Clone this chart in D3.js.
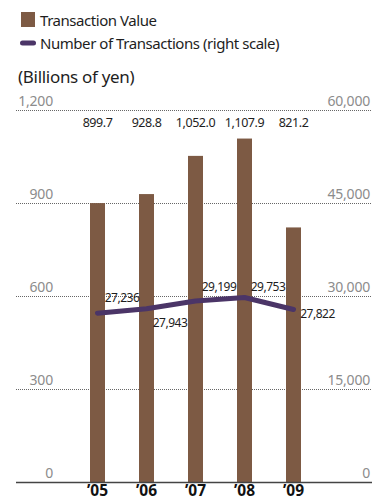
<!DOCTYPE html>
<html>
<head>
<meta charset="utf-8">
<script src="https://cdn.jsdelivr.net/npm/d3@7"></script>
<style>
  html, body { margin: 0; padding: 0; background: #fff; }
  svg { display: block; font-family: "Noto Sans", "Open Sans", sans-serif; }
</style>
</head>
<body>
<svg id="chart" width="379" height="501"></svg>
<script>
// Fiscal years
const years = ["’05", "’06", "’07", "’08", "’09"];
// Transaction value, billions of yen (left scale)
const transactionValue = [899.7, 928.8, 1052.0, 1107.9, 821.2];
// Number of transactions (right scale)
const transactionCount = [27236, 27943, 29199, 29753, 27822];
// Axis ticks
const leftTicks = [0, 300, 600, 900, 1200];
const rightTicks = [0, 15000, 30000, 45000, 60000];

const svg = d3.select("#chart");
const barColor = "#7d5a44";
const lineColor = "#4b3567";
const tickColor = "#8c8c8c";
const textColor = "#1e1e1e";

const plotLeft = 16, plotRight = 372, plotTop = 110, plotBottom = 482;

const x = d3.scaleBand().domain(years).range([73, 318])
  .paddingInner(34 / 49).paddingOuter(17 / 49);
const yL = d3.scaleLinear().domain([0, 1200]).range([plotBottom, plotTop]);
const yR = d3.scaleLinear().domain([0, 60000]).range([plotBottom, plotTop]);

// Legend
svg.append("rect").attr("x", 21).attr("y", 12).attr("width", 14).attr("height", 15).attr("fill", barColor);
svg.append("text").attr("x", 40).attr("y", 26).attr("font-size", 15).attr("letter-spacing", -0.45)
  .attr("fill", textColor).text("Transaction Value");
svg.append("line").attr("x1", 22.5).attr("x2", 33.5).attr("y1", 43).attr("y2", 43)
  .attr("stroke", lineColor).attr("stroke-width", 5).attr("stroke-linecap", "round");
svg.append("text").attr("x", 40).attr("y", 48.5).attr("font-size", 15).attr("letter-spacing", -0.45)
  .attr("fill", textColor).text("Number of Transactions (right scale)");

svg.append("text").attr("x", 18).attr("y", 83).attr("font-size", 17).attr("letter-spacing", -0.3)
  .attr("fill", textColor).text("(Billions of yen)");

// Dotted gridlines (baseline drawn separately)
svg.append("g").selectAll("line").data(leftTicks.filter(d => d > 0)).join("line")
  .attr("x1", plotLeft).attr("x2", plotRight)
  .attr("y1", d => yL(d) + 0.5).attr("y2", d => yL(d) + 0.5)
  .attr("stroke", "#666").attr("stroke-width", 1).attr("stroke-dasharray", "1,1");

// Left axis labels
const leftAxis = d3.axisLeft(yL).tickValues(leftTicks).tickSize(0).tickFormat(d3.format(","));
const gL = svg.append("g").attr("transform", "translate(53,0)").call(leftAxis);
gL.select(".domain").remove();
gL.selectAll("text").attr("x", 0).attr("dy", "-0.3em").attr("text-anchor", "end")
  .attr("font-size", 14).attr("letter-spacing", -0.2).attr("fill", tickColor)
  .attr("font-family", "'Noto Sans', sans-serif");

// Right axis labels
const rightAxis = d3.axisRight(yR).tickValues(rightTicks).tickSize(0).tickFormat(d3.format(","));
const gR = svg.append("g").attr("transform", "translate(370,0)").call(rightAxis);
gR.select(".domain").remove();
gR.selectAll("text").attr("x", 0).attr("dy", "-0.3em").attr("text-anchor", "end")
  .attr("font-size", 14).attr("letter-spacing", -0.2).attr("fill", tickColor)
  .attr("font-family", "'Noto Sans', sans-serif");

// Bars
svg.append("g").selectAll("rect").data(transactionValue).join("rect")
  .attr("x", (d, i) => x(years[i]))
  .attr("width", x.bandwidth())
  .attr("y", d => yL(d))
  .attr("height", d => yL(0) - yL(d))
  .attr("fill", barColor);

// Bar value labels
svg.append("g").selectAll("text").data(transactionValue).join("text")
  .attr("x", (d, i) => x(years[i]) + x.bandwidth() / 2)
  .attr("y", 127)
  .attr("text-anchor", "middle")
  .attr("font-size", 12.5)
  .attr("letter-spacing", -0.45)
  .attr("fill", textColor)
  .text(d => d3.format(",.1f")(d));

// Baseline
svg.append("line").attr("x1", plotLeft).attr("x2", plotRight)
  .attr("y1", plotBottom + 0.5).attr("y2", plotBottom + 0.5)
  .attr("stroke", "#444").attr("stroke-width", 1.6);

// Year labels
svg.append("g").selectAll("text").data(years).join("text")
  .attr("x", d => x(d) + x.bandwidth() / 2)
  .attr("y", 496)
  .attr("text-anchor", "middle")
  .attr("font-size", 15.5)
  .attr("font-weight", "bold")
  .attr("fill", "#111")
  .text(d => d);

// Transactions line
const cx = i => x(years[i]) + x.bandwidth() / 2;
const line = d3.line().x((d, i) => cx(i)).y(d => yR(d));
svg.append("path").datum(transactionCount)
  .attr("d", line)
  .attr("fill", "none")
  .attr("stroke", lineColor)
  .attr("stroke-width", 5)
  .attr("stroke-linecap", "round")
  .attr("stroke-linejoin", "round");

// Line value labels: [dx, baseline dy] from each point
const lineLabelOffsets = [[24.5, -11], [23.5, 18], [23.5, -10], [23.5, -6.5], [24, 8.5]];
svg.append("g").selectAll("text").data(transactionCount).join("text")
  .attr("x", (d, i) => cx(i) + lineLabelOffsets[i][0])
  .attr("y", (d, i) => yR(d) + lineLabelOffsets[i][1])
  .attr("text-anchor", "middle")
  .attr("font-size", 12)
  .attr("letter-spacing", -0.5)
  .attr("fill", textColor)
  .text(d => d3.format(",")(d));
</script>
</body>
</html>
